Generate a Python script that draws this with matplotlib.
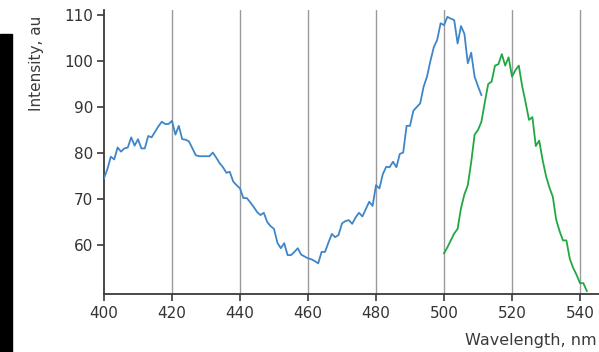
import numpy as np
import matplotlib
matplotlib.use("Agg")
import matplotlib.pyplot as plt
from matplotlib.patches import Rectangle

# blue spectrum, 400-511 nm (1 nm steps)
blue_start = 400
blue_values = [
    74.5, 76.5, 79.2, 78.6, 81.2, 80.3, 81.0, 81.2, 83.4, 81.6,
    83.0, 81.0, 81.0, 83.7, 83.4, 84.6, 85.8, 86.8, 86.3, 86.3,
    87.0, 84.0, 85.9, 83.0, 82.9, 82.5, 81.0, 79.5, 79.3, 79.3,
    79.3, 79.3, 80.1, 79.0, 77.8, 76.9, 75.7, 75.9, 73.8, 73.0,
    72.3, 70.2, 70.2, 69.3, 68.3, 67.2, 66.5, 67.0, 65.0, 64.1,
    63.5, 60.5, 59.3, 60.4, 57.8, 57.8, 58.5, 59.3, 57.9, 57.5,
    57.1, 56.9, 56.5, 56.0, 58.5, 58.5, 60.5, 62.4, 61.7, 62.2,
    64.7, 65.2, 65.4, 64.6, 66.0, 67.0, 66.2, 67.8, 69.4, 68.5,
    73.0, 72.3, 75.4, 77.0, 76.9, 78.1, 76.9, 79.8, 80.1, 85.9,
    85.9, 89.2, 90.0, 90.8, 94.4, 96.6, 100.0, 103.0, 104.6, 108.2,
    107.8, 109.6, 109.2, 108.9, 103.8, 107.6, 105.9, 99.5, 101.8, 96.6,
    94.5, 92.6,
]

# green spectrum, 500-542 nm (1 nm steps)
green_start = 500
green_values = [
    58.2, 59.5, 61.0, 62.5, 63.5, 68.0, 71.0, 73.0, 78.0, 84.0,
    85.0, 86.8, 91.0, 95.0, 95.5, 99.0, 99.3, 101.5, 99.0, 100.8,
    96.6, 98.0, 99.0, 94.5, 91.0, 87.2, 87.8, 81.5, 82.7, 78.5,
    75.0, 72.5, 70.5, 65.5, 63.0, 61.0, 61.0, 57.0, 55.0, 53.5,
    51.7, 51.7, 50.0,
]

x_ticks = [400, 420, 440, 460, 480, 500, 520, 540]
y_ticks = [60, 70, 80, 90, 100, 110]

blue_x = np.arange(len(blue_values)) + blue_start
green_x = np.arange(len(green_values)) + green_start

W, H = 599, 352
fig = plt.figure(figsize=(W / 100, H / 100), dpi=100)
fig.patch.set_facecolor("white")

# black strip on the left edge of the screenshot
fig.add_artist(Rectangle((0, 0), 12 / W, (H - 34) / H, transform=fig.transFigure,
                         color="black", zorder=5))

left, right, top, bottom = 104, 599, 10, 294
ax = fig.add_axes([left / W, (H - bottom) / H, (right - left) / W, (bottom - top) / H])

px_per_nm = 68 / 20
px_per_unit = 46 / 10
ax.set_xlim(400, 400 + (right - left) / px_per_nm)
ax.set_ylim(110 - (bottom - 15) / px_per_unit, 110 + (15 - top) / px_per_unit)

for xv in x_ticks[1:]:
    ax.axvline(xv, color="#9a9a9a", lw=1.0, zorder=1)

ax.plot(blue_x, blue_values, color="#3f86c9", lw=1.3, zorder=3)
ax.plot(green_x, green_values, color="#21a843", lw=1.3, zorder=3)

for s in ["top", "right"]:
    ax.spines[s].set_visible(False)
for s in ["left", "bottom"]:
    ax.spines[s].set_color("#3a3a3a")
    ax.spines[s].set_linewidth(1.3)

ax.set_xticks(x_ticks)
ax.set_yticks(y_ticks)
ax.tick_params(axis="both", direction="out", length=5, width=1.2, color="#3a3a3a",
               labelsize=11, labelcolor="#333333")
ax.tick_params(axis="x", pad=4)
ax.tick_params(axis="y", pad=3)

fig.text(597 / W, 1 - 340 / H, "Wavelength, nm", ha="right", va="center",
         fontsize=11.5, color="#3a3a3a")
fig.text(37 / W, 1 - 63 / H, "Intensity, au", ha="center", va="center",
         rotation=90, fontsize=11, color="#3a3a3a")

fig.savefig("out.png", dpi=100)
